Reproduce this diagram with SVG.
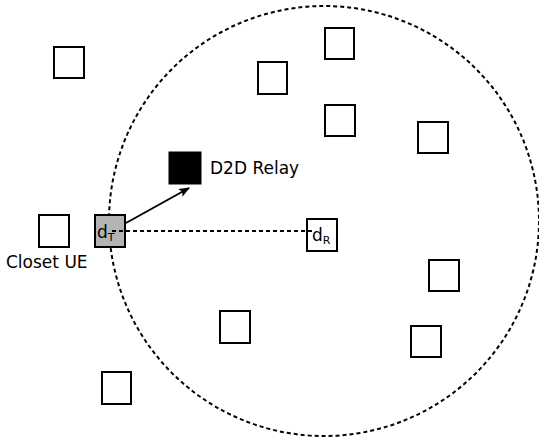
<svg xmlns="http://www.w3.org/2000/svg" width="539" height="445" viewBox="0 0 539 445">
<style>
.ue{fill:#fff;stroke:#000;stroke-width:2}
.t{font-family:"DejaVu Sans",sans-serif;font-size:17px;fill:#000}
.s{font-size:11px}
.dash{fill:none;stroke:#000;stroke-width:2;stroke-dasharray:4,3}
</style>
<defs>
<marker id="ah" viewBox="0 0 10 10" refX="9" refY="5" markerWidth="5.5" markerHeight="5.5" orient="auto" markerUnits="strokeWidth">
<path d="M0,1 L10,5 L0,9 L2,5 z" fill="#000"/>
</marker>
</defs>
<g id="cell"><circle class="dash" cx="324" cy="221" r="215"/></g>
<g id="ue1"><rect class="ue" x="54" y="47" width="30" height="31"/></g>
<g id="ue2"><rect class="ue" x="325" y="28" width="29" height="31"/></g>
<g id="ue3"><rect class="ue" x="258" y="62" width="29" height="32"/></g>
<g id="ue4"><rect class="ue" x="325" y="105" width="30" height="31"/></g>
<g id="ue5"><rect class="ue" x="418" y="122" width="30" height="31"/></g>
<g id="relay"><rect x="169" y="152" width="32" height="32" fill="#000" stroke="#000" stroke-width="1"/><text class="t" x="210" y="174">D2D Relay</text></g>
<g id="closest"><rect class="ue" x="39" y="215" width="30" height="32"/><text class="t" x="6" y="268">Closet UE</text></g>
<g id="dt"><rect x="95" y="215" width="30" height="32" fill="#b3b3b3" stroke="#000" stroke-width="2"/><text class="t" x="97" y="238">d<tspan class="s" dy="3">T</tspan></text></g>
<g id="dr"><rect class="ue" x="307" y="219" width="30" height="32"/><text class="t" x="312" y="241">d<tspan class="s" dy="3">R</tspan></text></g>
<g id="ue6"><rect class="ue" x="429" y="260" width="30" height="31"/></g>
<g id="ue7"><rect class="ue" x="220" y="311" width="30" height="32"/></g>
<g id="ue8"><rect class="ue" x="411" y="326" width="30" height="31"/></g>
<g id="ue9"><rect class="ue" x="102" y="372" width="29" height="32"/></g>
<g id="connectors">
<line class="dash" x1="112" y1="231" x2="314" y2="231"/>
<line x1="126" y1="223" x2="189" y2="188" stroke="#000" stroke-width="2" marker-end="url(#ah)"/>
</g>
</svg>
